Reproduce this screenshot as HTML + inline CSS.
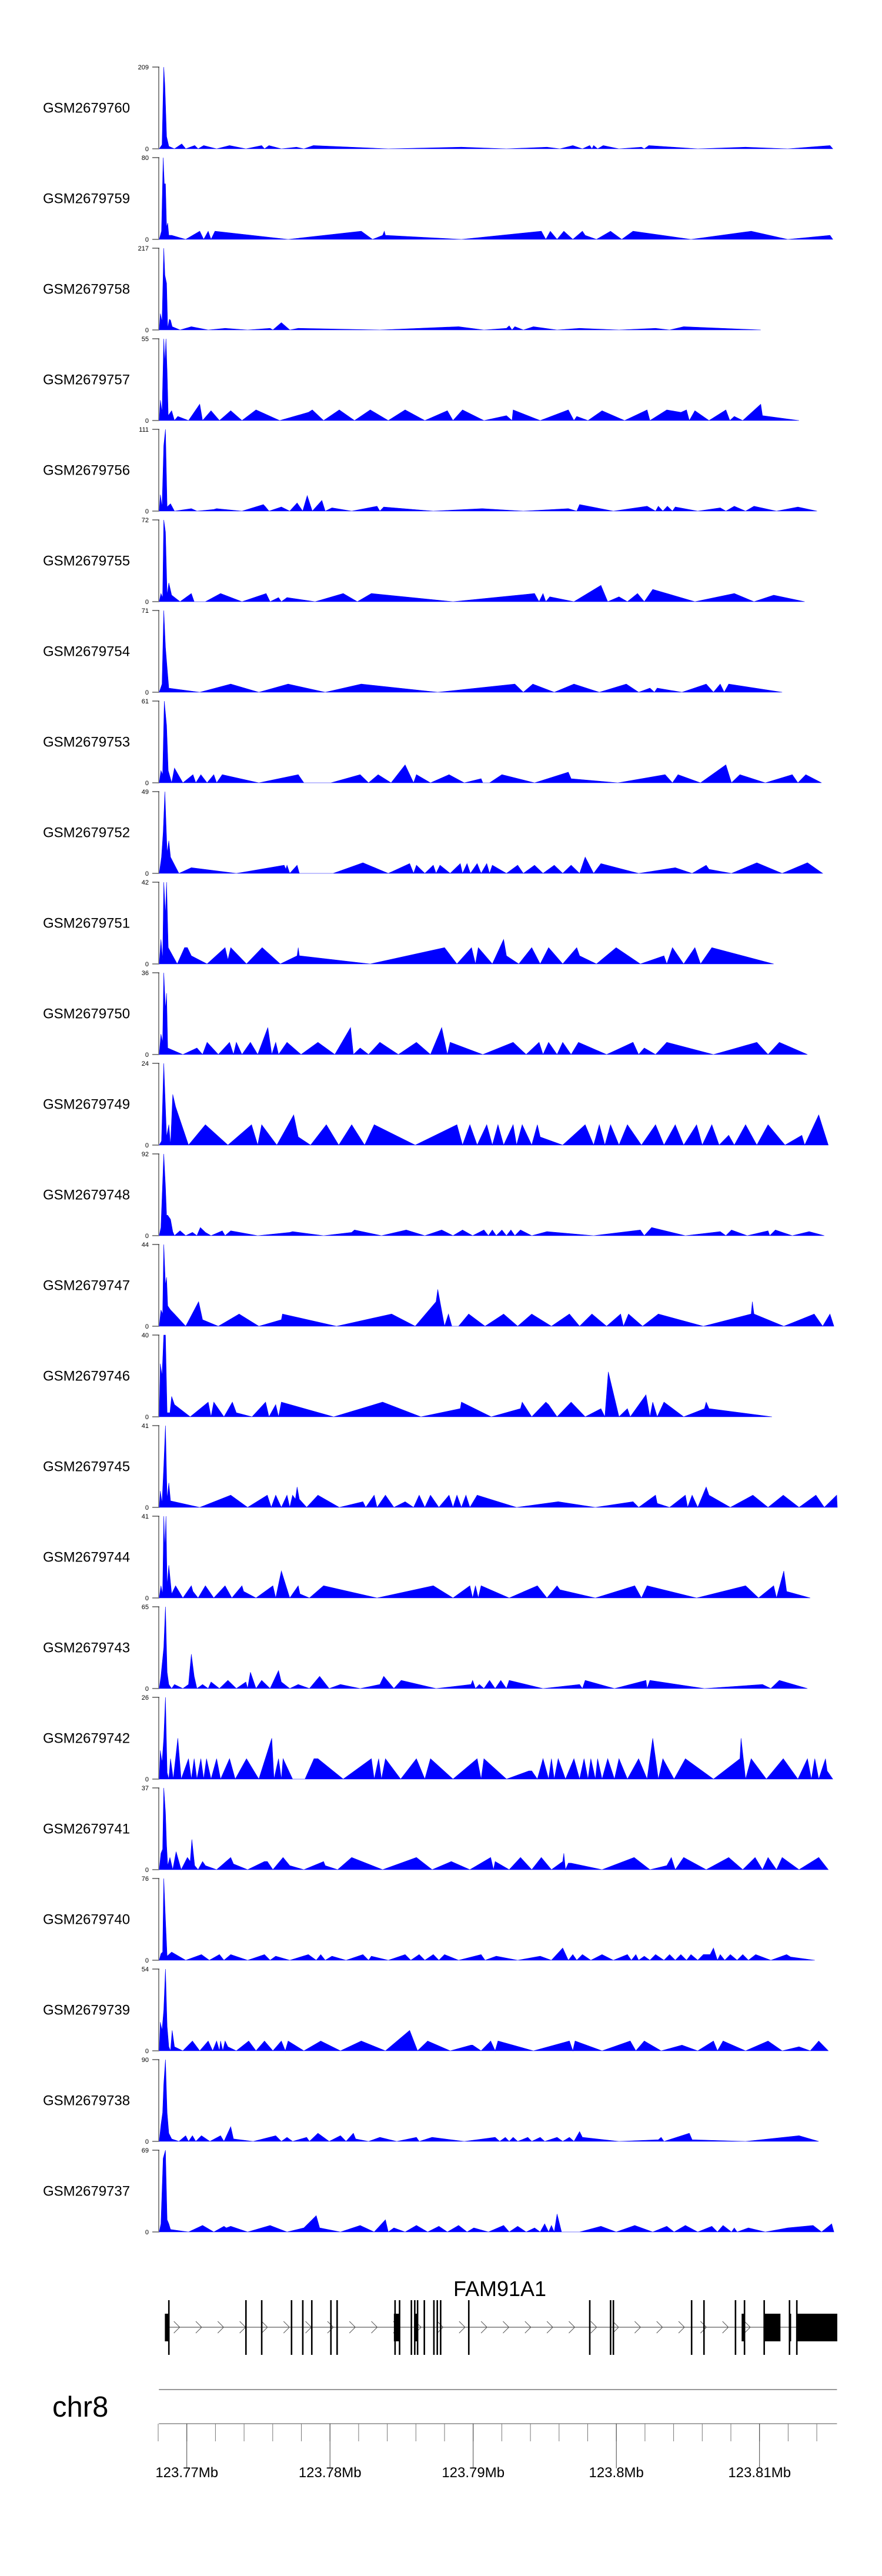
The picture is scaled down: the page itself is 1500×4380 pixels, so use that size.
<!DOCTYPE html>
<html><head><meta charset="utf-8"><style>
html,body{margin:0;padding:0;background:#fff;}
svg{display:block;font-family:"Liberation Sans",sans-serif;}
</style></head><body>
<svg id="chart" width="1500" height="4380" viewBox="0 0 1500 4380" xmlns="http://www.w3.org/2000/svg">
<g id="tracks"></g>
<g id="gene"></g>
<g id="axis"></g>
</svg>
<script>
// ---- data ----
// positions are coverage bins (BIN_BP bp each, counted from BIN_ORIGIN); values are normalized coverage (fraction of track max)
const BIN_ORIGIN = 123756953;
const BIN_BP = 39.3;
const sampleNames = ["GSM2679760","GSM2679759","GSM2679758","GSM2679757","GSM2679756","GSM2679755","GSM2679754","GSM2679753","GSM2679752","GSM2679751","GSM2679750","GSM2679749","GSM2679748","GSM2679747","GSM2679746","GSM2679745","GSM2679744","GSM2679743","GSM2679742","GSM2679741","GSM2679740","GSM2679739","GSM2679738","GSM2679737"];
const yMax = [209,80,217,55,111,72,71,61,49,42,36,24,92,44,40,41,41,65,26,37,76,54,90,69];

const cov760=[[283,0],[288,.05],[291,1],[293,.77],[296,.15],[300,.03],[310,0],[323,.06],[330,0],[346,.04],[352,0],[362,.04],[385,0],[408,.04],[437,0],[465,.04],[470,0],[478,.04],[500,0],[527,.02],[540,0],[557,.04],[690,0],[820,.02],[900,0],[972,.02],[995,0],[1018,.04],[1035,0],[1048,.04],[1052,0],[1055,.04],[1062,0],[1072,.04],[1100,0],[1140,.02],[1145,0],[1153,.04],[1240,0],[1325,.02],[1400,0],[1475,.04],[1480,0]];
const cov759=[[283,0],[287,.1],[290,1],[292,.68],[294,.68],[296,.15],[298,.2],[300,.05],[305,.05],[330,0],[355,.1],[362,0],[370,.1],[375,0],[382,.1],[512,0],[642,.1],[662,0],[680,.05],[683,.1],[685,.05],[820,0],[962,.1],[970,0],[978,.1],[990,0],[1002,.1],[1018,0],[1035,.1],[1040,.05],[1060,0],[1085,.1],[1105,0],[1125,.1],[1228,0],[1335,.1],[1400,0],[1475,.05],[1480,0]];
const cov758=[[283,0],[285,.2],[288,.1],[291,1],[293,.67],[296,.57],[298,.02],[301,.13],[303,.12],[306,.04],[320,0],[340,.04],[370,0],[400,.02],[440,0],[480,.02],[485,0],[500,.09],[515,0],[530,.02],[675,0],[815,.04],[860,0],[900,.02],[905,.05],[910,0],[915,.04],[930,0],[948,.04],[990,0],[1030,.02],[1100,0],[1165,.02],[1190,0],[1215,.04],[1352,0]];
const cov757=[[283,0],[285,.25],[288,.1],[291,1],[293,.7],[295,1],[297,.6],[299,.06],[305,.12],[310,0],[316,.05],[335,0],[355,.2],[360,0],[375,.12],[390,0],[410,.12],[430,0],[455,.13],[497,0],[548,.1],[555,.13],[575,0],[603,.13],[630,0],[658,.13],[690,0],[720,.13],[755,0],[795,.12],[805,0],[822,.13],[860,0],[900,.06],[910,0],[912,.13],[960,0],[1010,.13],[1020,0],[1025,.05],[1045,0],[1070,.12],[1110,0],[1150,.13],[1155,0],[1185,.13],[1210,.1],[1220,.13],[1225,0],[1235,.12],[1260,0],[1290,.13],[1297,0],[1305,.05],[1320,0],[1352,.2],[1355,.06],[1420,0]];
const cov756=[[283,0],[285,.2],[288,.05],[291,.8],[294,1],[297,.05],[303,.09],[310,0],[340,.03],[350,0],[380,.02],[385,.03],[430,0],[468,.08],[472,.05],[478,0],[500,.05],[515,0],[528,.1],[538,0],[546,.19],[555,0],[572,.13],[578,0],[590,.04],[625,0],[670,.06],[675,0],[682,.05],[770,0],[857,.03],[930,0],[1010,.03],[1025,0],[1030,.08],[1090,0],[1150,.06],[1165,0],[1170,.06],[1178,0],[1186,.06],[1195,0],[1200,.05],[1240,0],[1280,.04],[1290,0],[1305,.06],[1325,0],[1340,.06],[1380,0],[1418,.05],[1452,0]];
const cov755=[[283,0],[286,.1],[289,.05],[291,1],[294,.85],[297,.08],[300,.23],[305,.08],[320,0],[340,.1],[345,0],[365,0],[392,.1],[430,0],[473,.1],[480,0],[495,.05],[500,0],[510,.05],[560,0],[610,.1],[635,0],[660,.1],[805,0],[950,.1],[958,0],[965,.1],[970,0],[977,.06],[1020,0],[1068,.2],[1080,0],[1100,.06],[1115,0],[1133,.1],[1145,0],[1160,.15],[1235,0],[1305,.1],[1340,0],[1375,.08],[1430,0]];
const cov754=[[283,0],[288,.1],[291,1],[294,.55],[297,.3],[300,.05],[355,0],[410,.1],[460,0],[512,.1],[578,0],[642,.1],[778,0],[915,.1],[930,0],[947,.1],[985,0],[1020,.1],[1065,0],[1113,.1],[1135,0],[1155,.05],[1163,0],[1168,.05],[1212,0],[1255,.1],[1268,0],[1280,.1],[1287,0],[1295,.1],[1390,0]];
const cov753=[[283,0],[286,.15],[289,.1],[292,1],[296,.7],[299,.15],[305,0],[310,.18],[325,0],[343,.1],[348,0],[357,.1],[368,0],[380,.1],[385,0],[395,.1],[460,0],[530,.1],[540,0],[588,0],[640,.1],[655,0],[672,.1],[695,0],[720,.22],[735,0],[740,.1],[765,0],[798,.1],[825,0],[855,.05],[858,0],[870,0],[892,.1],[950,0],[1010,.13],[1015,.05],[1098,0],[1182,.1],[1195,0],[1205,.1],[1245,0],[1290,.22],[1300,0],[1315,.1],[1360,0],[1408,.1],[1418,0],[1432,.1],[1460,0]];
const cov752=[[283,0],[287,.2],[290,.5],[293,1],[297,.25],[300,.4],[303,.2],[318,0],[340,.07],[420,0],[505,.1],[508,.05],[510,.1],[515,0],[528,.1],[532,0],[592,0],[645,.13],[690,0],[728,.12],[735,0],[740,.1],[755,0],[770,.1],[775,0],[782,.1],[800,0],[818,.12],[822,0],[830,.12],[836,0],[848,.12],[855,0],[865,.12],[870,0],[875,.1],[900,0],[920,.1],[930,0],[950,.1],[965,0],[985,.1],[1000,0],[1015,.1],[1030,0],[1040,.2],[1055,0],[1068,.12],[1135,0],[1200,.07],[1230,0],[1255,.1],[1260,.05],[1300,0],[1345,.13],[1390,0],[1435,.13],[1462,0]];
const cov751=[[283,0],[286,.3],[289,.05],[291,1],[294,.6],[296,1],[299,.2],[315,0],[328,.2],[333,.2],[340,.1],[368,0],[400,.2],[405,.05],[410,.2],[438,0],[466,.2],[498,0],[528,.1],[530,.2],[532,.1],[658,0],[790,.2],[812,0],[838,.2],[845,0],[850,.2],[875,0],[895,.3],[900,.1],[922,0],[945,.2],[960,0],[975,.2],[1000,0],[1025,.2],[1030,.1],[1060,0],[1095,.2],[1138,0],[1180,.1],[1185,0],[1195,.2],[1215,0],[1235,.2],[1245,0],[1265,.2],[1375,0]];
const cov750=[[283,0],[286,.25],[289,.15],[291,1],[294,.55],[296,.75],[298,.08],[325,0],[350,.08],[360,0],[368,.15],[388,0],[408,.15],[415,0],[420,.15],[430,0],[445,.15],[458,0],[476,.33],[483,0],[490,.15],[495,0],[510,.15],[535,0],[565,.15],[595,0],[623,.33],[628,0],[640,.08],[655,0],[675,.15],[708,0],[740,.15],[765,0],[785,.33],[795,0],[800,.15],[858,0],[912,.15],[935,0],[958,.15],[965,0],[975,.15],[990,0],[1000,.15],[1015,0],[1028,.15],[1078,0],[1125,.15],[1135,0],[1145,.08],[1165,0],[1185,.15],[1268,0],[1345,.15],[1365,0],[1385,.15],[1435,0]];
const cov749=[[283,0],[287,.05],[291,1],[296,.1],[300,.25],[303,0],[307,.62],[312,.47],[335,0],[365,.25],[405,0],[447,.25],[458,0],[465,.25],[492,0],[522,.37],[530,.1],[552,0],[580,.25],[602,0],[625,.25],[648,0],[665,.25],[738,0],[812,.25],[822,0],[835,.25],[848,0],[865,.25],[875,0],[885,.25],[895,0],[912,.25],[918,0],[928,.25],[945,0],[955,.25],[960,.1],[1000,0],[1040,.25],[1055,0],[1065,.25],[1075,0],[1085,.25],[1100,0],[1115,.25],[1140,0],[1165,.25],[1180,0],[1200,.25],[1215,0],[1238,.25],[1248,0],[1265,.25],[1278,0],[1295,.12],[1305,0],[1325,.25],[1345,0],[1365,.25],[1395,0],[1425,.12],[1430,0],[1455,.37],[1472,0]];
const cov748=[[283,0],[286,.1],[291,1],[294,.6],[296,.25],[298,.25],[303,.2],[307,.05],[310,0],[320,.06],[330,0],[342,.04],[350,0],[356,.1],[365,.04],[375,0],[395,.06],[400,0],[410,.06],[458,0],[515,.04],[520,.05],[575,0],[625,.04],[630,.07],[678,0],[722,.07],[755,0],[785,.07],[805,0],[822,.07],[840,0],[860,.07],[868,0],[875,.07],[882,0],[892,.07],[900,0],[908,.07],[915,0],[925,.07],[945,0],[972,.05],[1055,0],[1138,.07],[1145,0],[1158,.1],[1218,0],[1280,.05],[1290,0],[1300,.07],[1328,0],[1365,.06],[1368,0],[1378,.07],[1408,0],[1438,.05],[1465,0]];
const cov747=[[283,0],[286,.2],[289,.15],[291,1],[294,.5],[296,.6],[298,.25],[303,.2],[310,.15],[330,0],[353,.3],[360,.08],[388,0],[425,.15],[460,0],[500,.08],[502,.15],[598,0],[696,.15],[738,0],[775,.3],[778,.45],[790,0],[797,.15],[803,0],[815,0],[833,.15],[862,0],[895,.15],[920,0],[945,.15],[980,0],[1012,.15],[1030,0],[1052,.15],[1078,0],[1103,.15],[1108,0],[1117,.15],[1142,0],[1170,.15],[1250,0],[1335,.15],[1337,.3],[1340,.15],[1393,0],[1447,.15],[1462,0],[1475,.15],[1482,0]];
const cov746=[[283,0],[285,.65],[288,.5],[291,1],[294,1],[297,.05],[302,.05],[305,.25],[310,.15],[338,0],[370,.18],[375,0],[380,.18],[398,0],[413,.18],[420,.05],[448,0],[472,.18],[478,0],[490,.15],[495,0],[500,.18],[593,0],[680,.18],[748,0],[818,.1],[820,.18],[873,0],[925,.1],[928,.18],[945,0],[970,.18],[975,.15],[990,0],[1015,.18],[1040,0],[1068,.1],[1075,0],[1081,.55],[1100,0],[1115,.1],[1120,0],[1148,.27],[1155,0],[1160,.18],[1168,0],[1180,.18],[1215,0],[1252,.1],[1255,.18],[1260,.1],[1372,0]];
const cov745=[[283,0],[285,.2],[288,.05],[291,.5],[294,1],[297,.1],[300,.3],[303,.08],[355,0],[410,.15],[440,0],[475,.15],[482,0],[490,.15],[500,0],[510,.15],[515,0],[520,.15],[525,.1],[528,.25],[532,.1],[545,0],[565,.15],[603,0],[645,.07],[650,0],[665,.15],[670,0],[685,.15],[700,0],[720,.07],[735,0],[745,.15],[755,0],[765,.15],[780,0],[798,.15],[805,0],[812,.15],[820,0],[828,.15],[835,0],[848,.15],[918,0],[992,.07],[1058,0],[1125,.07],[1135,0],[1165,.15],[1168,.05],[1190,0],[1218,.15],[1222,0],[1230,.15],[1240,0],[1255,.25],[1260,.15],[1298,0],[1338,.15],[1365,0],[1392,.15],[1420,0],[1450,.15],[1465,0],[1487,.15],[1488,0]];
const cov744=[[283,0],[286,.15],[289,.05],[291,1],[293,.6],[295,1],[297,.15],[300,.4],[305,.05],[312,.15],[325,0],[340,.15],[343,.08],[352,0],[365,.15],[380,0],[400,.15],[412,0],[430,.15],[433,.08],[455,0],[485,.15],[490,0],[500,.33],[515,0],[530,.15],[533,.05],[550,0],[575,.15],[670,0],[770,.15],[805,0],[835,.15],[840,0],[845,.15],[850,0],[855,.15],[905,0],[955,.15],[972,0],[990,.15],[995,.1],[1058,0],[1128,.15],[1140,0],[1150,.15],[1238,0],[1325,.15],[1348,0],[1375,.15],[1380,0],[1393,.33],[1398,.08],[1440,0]];
const cov743=[[283,0],[286,.15],[291,.5],[294,1],[297,.2],[300,.05],[305,0],[310,.05],[325,0],[335,.05],[340,.42],[345,.15],[350,0],[360,.05],[370,0],[375,.08],[390,0],[405,.1],[420,0],[437,.08],[440,0],[445,.2],[455,0],[465,.1],[480,0],[495,.22],[500,.08],[515,0],[530,.05],[550,0],[568,.15],[585,0],[605,.05],[640,0],[675,.05],[682,.15],[700,0],[713,.1],[775,0],[837,.05],[840,.1],[845,0],[852,.05],[860,0],[870,.1],[880,0],[890,.1],[900,0],[905,.1],[965,0],[1030,.05],[1035,0],[1040,.1],[1092,0],[1148,.1],[1150,0],[1155,.1],[1252,0],[1355,.05],[1370,0],[1385,.1],[1435,0]];
const cov742=[[283,0],[285,.35],[288,.2],[291,.5],[294,1],[297,.08],[300,0],[303,.25],[308,0],[316,.5],[322,0],[335,.25],[340,0],[345,.25],[350,0],[357,.25],[362,0],[367,.25],[375,0],[385,.25],[392,0],[408,.25],[418,0],[438,.25],[460,0],[483,.5],[487,0],[495,.25],[500,0],[503,.25],[520,0],[542,0],[558,.25],[565,.25],[610,0],[660,.25],[665,0],[673,.25],[678,0],[685,.25],[712,0],[740,.25],[755,0],[765,.25],[805,0],[848,.25],[855,0],[860,.25],[900,0],[940,.1],[945,.1],[955,0],[965,.25],[975,0],[980,.25],[985,0],[992,.25],[1005,0],[1020,.25],[1030,0],[1038,.25],[1045,0],[1050,.25],[1058,0],[1062,.25],[1070,0],[1080,.25],[1092,0],[1100,.25],[1115,0],[1135,.25],[1150,0],[1160,.5],[1170,0],[1178,.25],[1198,0],[1218,.25],[1268,0],[1315,.25],[1317,.5],[1325,0],[1335,.25],[1362,0],[1392,.25],[1418,0],[1435,.25],[1442,0],[1448,.25],[1455,0],[1467,.25],[1470,.1],[1480,0]];
const cov741=[[283,0],[286,.2],[289,.25],[291,1],[294,.7],[296,.3],[298,.05],[302,.15],[307,0],[313,.22],[322,0],[333,.15],[338,.1],[341,.37],[346,.05],[352,0],[360,.1],[365,.05],[385,0],[410,.15],[415,.07],[440,0],[470,.1],[475,.1],[485,0],[503,.15],[515,.05],[540,0],[575,.1],[578,.05],[600,0],[625,.15],[680,0],[740,.15],[768,0],[802,.1],[835,0],[872,.15],[877,0],[880,.1],[905,0],[925,.15],[945,0],[962,.15],[980,0],[1000,.1],[1002,.2],[1005,0],[1010,.08],[1015,.08],[1070,0],[1127,.15],[1155,0],[1185,.05],[1193,.15],[1200,0],[1215,.15],[1255,0],[1295,.15],[1320,0],[1342,.15],[1355,0],[1365,.15],[1380,0],[1390,.15],[1420,0],[1455,.15],[1472,0]];
const cov740=[[283,0],[286,.08],[289,.1],[291,1],[294,.5],[297,.05],[305,.1],[330,0],[358,.07],[372,0],[390,.07],[398,0],[410,.07],[440,0],[470,.07],[480,0],[490,.05],[515,0],[548,.07],[562,0],[570,.07],[578,0],[590,.05],[615,0],[645,.07],[655,0],[660,.05],[690,0],[720,.07],[730,0],[745,.07],[755,0],[770,.07],[780,0],[790,.07],[815,0],[855,.07],[862,0],[882,.05],[920,0],[960,.05],[980,0],[1000,.15],[1010,0],[1018,.07],[1025,0],[1035,.07],[1050,0],[1070,.07],[1090,0],[1115,.07],[1122,0],[1130,.07],[1135,0],[1145,.05],[1155,0],[1165,.07],[1180,0],[1190,.07],[1200,0],[1210,.07],[1220,0],[1228,.07],[1240,0],[1250,.07],[1262,.07],[1268,.15],[1275,0],[1280,.07],[1288,0],[1298,.07],[1310,0],[1320,.07],[1330,0],[1343,.07],[1370,0],[1398,.07],[1405,.04],[1448,0]];
const cov739=[[283,0],[285,.35],[288,.25],[291,.5],[294,1],[297,.3],[300,.05],[303,0],[306,.25],[310,.05],[325,0],[342,.12],[355,0],[370,.12],[378,0],[385,.12],[390,0],[392,.12],[396,0],[400,.12],[405,.05],[420,0],[442,.12],[455,0],[470,.12],[485,0],[500,.12],[507,0],[512,.12],[540,0],[570,.12],[605,0],[642,.12],[685,0],[728,.25],[742,0],[760,.12],[800,0],[837,.07],[840,.07],[855,0],[872,.12],[880,0],[885,.12],[948,0],[1012,.12],[1018,0],[1022,.12],[1070,0],[1120,.12],[1130,0],[1145,.12],[1175,0],[1212,.07],[1240,0],[1268,.12],[1275,0],[1285,.12],[1325,0],[1365,.12],[1390,0],[1420,.05],[1440,0],[1455,.12],[1472,0]];
const cov738=[[283,0],[286,.2],[289,.35],[291,.7],[294,1],[297,.35],[300,.1],[305,.03],[318,0],[330,.07],[335,0],[342,.07],[348,0],[358,.07],[373,0],[392,.07],[398,0],[410,.18],[415,.03],[450,0],[490,.07],[500,0],[510,.05],[520,0],[545,.05],[550,0],[565,.1],[585,0],[605,.07],[615,0],[628,.1],[632,.03],[655,0],[675,.05],[705,0],[740,.05],[745,0],[768,.05],[825,0],[880,.05],[888,0],[898,.05],[905,0],[912,.05],[920,0],[938,.05],[945,0],[960,.05],[968,0],[990,.05],[1000,0],[1012,.05],[1020,0],[1030,.12],[1035,.05],[1100,0],[1170,.02],[1175,.05],[1180,0],[1225,.1],[1230,.02],[1325,0],[1420,.07],[1455,0]];
const cov737=[[283,0],[286,.1],[290,.9],[294,1],[297,.15],[300,.1],[303,.03],[335,0],[360,.08],[380,0],[398,.07],[402,.05],[410,.07],[440,0],[480,.08],[510,0],[540,.05],[562,.2],[568,.05],[605,0],[640,.08],[665,0],[685,.15],[690,0],[700,.05],[720,0],[740,.08],[760,0],[780,.07],[795,0],[815,.08],[830,0],[842,.05],[868,0],[895,.08],[905,0],[920,.07],[935,0],[950,.05],[960,0],[968,.1],[975,0],[980,.08],[985,0],[990,.22],[998,0],[1030,0],[1068,.07],[1095,0],[1128,.08],[1160,0],[1185,.07],[1198,0],[1218,.08],[1240,0],[1265,.07],[1275,0],[1285,.08],[1300,0],[1305,.05],[1310,0],[1330,.05],[1360,0],[1400,.05],[1445,.08],[1460,0],[1478,.1],[1482,0]];

const coverage=[cov760,cov759,cov758,cov757,cov756,cov755,cov754,cov753,cov752,cov751,cov750,cov749,cov748,cov747,cov746,cov745,cov744,cov743,cov742,cov741,cov740,cov739,cov738,cov737];

// gene model (bins)
const exonLines=[300,437,465,518,538,554,588,599,702,710,731,737,742,754,771,777,783,833,1048,1085,1090,1229,1251,1307,1323,1358,1403,1416];
const cdsStarts=[293,700,738,1318,1358,1403,1416];
const cdsEnds=[300,710,743,1324,1387,1406,1488];
const geneName="FAM91A1";
const chromName="chr8";
// axis (Mb)
const majorTicksMb=[123.77,123.78,123.79,123.80,123.81];
const majorTickLabels=["123.77Mb","123.78Mb","123.79Mb","123.8Mb","123.81Mb"];
const minorStartMb=123.768, minorEndMb=123.814, minorStepMb=0.002;
const viewStartMb=123.76805, viewEndMb=123.81541;

// ---- scales ----
const X0=317.7, PX_PER_KB=24.35, REF_BP=123770000;
function xBp(bp){return X0+(bp-REF_BP)/1000*PX_PER_KB;}
function xBin(b){return xBp(BIN_ORIGIN+b*BIN_BP);}
const ZERO0=253, PITCH=154, TRACK_H=139;
function yScale(i,v){return ZERO0+i*PITCH - v*TRACK_H;}

const NS="http://www.w3.org/2000/svg";
function mk(tag,attrs,parent){const e=document.createElementNS(NS,tag);for(const k in attrs)e.setAttribute(k,attrs[k]);parent.appendChild(e);return e;}

const gT=document.getElementById('tracks');
coverage.forEach((pts,i)=>{
  const zero=ZERO0+i*PITCH, top=zero-TRACK_H;
  const g=mk('g',{},gT);
  
  
  const lab=mk('text',{x:73,y:(top+zero)/2+8,'font-size':24,fill:'#000'},g);
  lab.textContent=sampleNames[i];
  
  
  const ax=mk('line',{x1:270,y1:top,x2:270,y2:zero+1,stroke:'#888','stroke-width':2},g);
  
  
  const t1=mk('line',{x1:259,y1:top,x2:271,y2:top,stroke:'#000','stroke-width':1},g);
  
  
  const t0=mk('line',{x1:259,y1:zero,x2:271,y2:zero,stroke:'#888','stroke-width':2},g);
  
  
  const tl1=mk('text',{x:253,y:top+4,'font-size':11,'text-anchor':'end',fill:'#000'},g);
  tl1.textContent=yMax[i];
  
  
  const tl0=mk('text',{x:253,y:zero+4,'font-size':11,'text-anchor':'end',fill:'#000'},g);
  tl0.textContent='0';
  
  
  let d='M'+xBin(pts[0][0]).toFixed(1)+','+zero;
  pts.forEach(p=>{d+='L'+xBin(p[0]).toFixed(1)+','+yScale(i,p[1]).toFixed(1);});
  d+='L'+xBin(pts[pts.length-1][0]).toFixed(1)+','+zero+'Z';
  const area=mk('path',{d:d,fill:'#0000ff',stroke:'#0000ff','stroke-width':0.6},g);
  
  
});

// gene track
const GY=3957, EXON_TOP=3911, EXON_BOT=4004, CDS_TOP=3934, CDS_BOT=3981;
const gG=document.getElementById('gene');
const gl=mk('text',{x:850,y:3904,'font-size':36,'text-anchor':'middle',fill:'#000'},gG);
gl.textContent=geneName;


const intr=mk('line',{x1:xBin(300),y1:GY,x2:xBin(1488),y2:GY,stroke:'#333','stroke-width':1},gG);


for(let b=310;b<1360;b+=39){
  const x=xBin(b)+4;
  const c=mk('polyline',{points:`${x-5},${GY-10} ${x+5},${GY} ${x-5},${GY+10}`,fill:'none',stroke:'#555','stroke-width':1},gG);
  
  
}
exonLines.forEach(b=>{
  const e=mk('rect',{x:xBin(b)-1.2,y:EXON_TOP,width:2.6,height:EXON_BOT-EXON_TOP,fill:'#000'},gG);
  
  
});
cdsStarts.forEach((s,k)=>{
  const e=mk('rect',{x:xBin(s),y:CDS_TOP,width:xBin(cdsEnds[k])-xBin(s),height:CDS_BOT-CDS_TOP,fill:'#000'},gG);
  
  
});

// axis
const gA=document.getElementById('axis');
const chr=mk('text',{x:89,y:4109,'font-size':49,fill:'#000'},gA);
chr.textContent=chromName;


const xs=xBp(viewStartMb*1e6), xe=xBp(viewEndMb*1e6);
const ideo=mk('line',{x1:xs,y1:4063,x2:xe,y2:4063,stroke:'#999','stroke-width':2},gA);


const axl=mk('line',{x1:xs,y1:4121,x2:xe,y2:4121,stroke:'#888','stroke-width':1.5},gA);


for(let m=minorStartMb;m<=minorEndMb+1e-9;m+=minorStepMb){
  const x=xBp(m*1e6);
  const t=mk('line',{x1:x,y1:4121,x2:x,y2:4151,stroke:'#777','stroke-width':1},gA);
  
  
}
majorTicksMb.forEach((m,k)=>{
  const x=xBp(m*1e6);
  const t=mk('line',{x1:x,y1:4121,x2:x,y2:4197,stroke:'#444','stroke-width':1},gA);
  
  
  const l=mk('text',{x:x,y:4212,'font-size':24,'text-anchor':'middle',fill:'#000'},gA);
  l.textContent=majorTickLabels[k];
  
  
});
</script>
</body></html>
